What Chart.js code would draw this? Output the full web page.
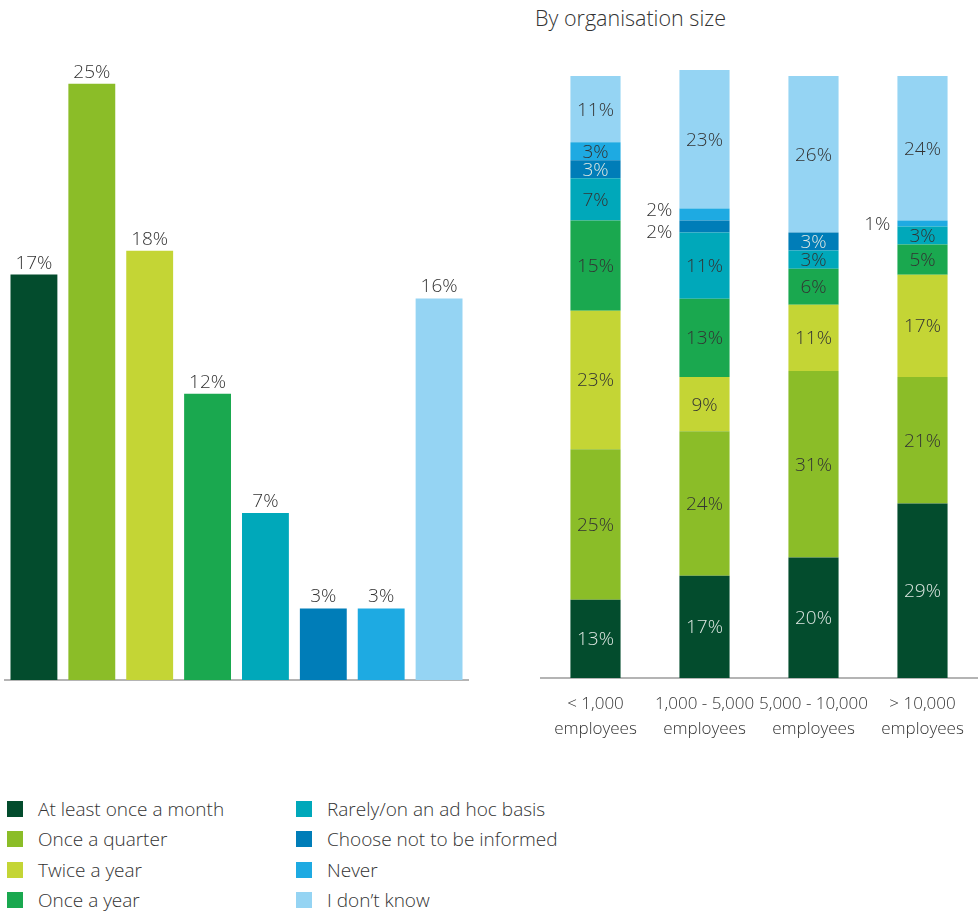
<!DOCTYPE html>
<html>
<head>
<meta charset="utf-8">
<script src="https://cdn.jsdelivr.net/npm/chart.js@4/dist/chart.umd.min.js"></script>
<style>
  body { margin:0; background:#fff; font-family:"Open Sans", sans-serif; }
  #wrap { position:relative; width:978px; height:911px; overflow:hidden; }
  #left-box { position:absolute; left:0; top:0; width:475px; height:690px; }
  #right-box { position:absolute; left:500px; top:0; width:478px; height:760px; }
  #title { position:absolute; left:535px; top:3px; font-size:21.5px; font-weight:300; color:#333; }
  #legend { position:absolute; left:7px; top:794px; }
  .leg-col { position:absolute; top:0; width:300px; }
  .leg-item { height:30.3px; display:flex; align-items:center; font-size:19px; font-weight:300; color:#333; white-space:nowrap; }
  .leg-item span.sw { width:16px; height:16px; margin-right:15px; flex:none; }
</style>
</head>
<body>
<div id="wrap">
  <div id="left-box"><canvas id="left-chart"></canvas></div>
  <div id="title">By organisation size</div>
  <div id="right-box"><canvas id="right-chart"></canvas></div>
  <div id="legend"></div>
</div>
<script>
// answer categories (also legend)
const answers = [
  "At least once a month",
  "Once a quarter",
  "Twice a year",
  "Once a year",
  "Rarely/on an ad hoc basis",
  "Choose not to be informed",
  "Never",
  "I don\u2019t know"
];
const colors = ["#034c2d", "#8bbd28", "#c4d535", "#1aa84f", "#00a8ba", "#007db8", "#1eaae2", "#95d4f3"];
const labelOnDark = [true, false, false, false, false, true, false, false];

// overall share
const overall = [17, 25, 18, 12, 7, 3, 3, 16];

// by organisation size
const sizes = [["< 1,000", "employees"], ["1,000 - 5,000", "employees"], ["5,000 - 10,000", "employees"], ["> 10,000", "employees"]];
const monthly   = [13, 17, 20, 29];
const quarterly = [25, 24, 31, 21];
const twiceYear = [23, 9, 11, 17];
const yearly    = [15, 13, 6, 5];
const rarely    = [7, 11, 3, 3];
const chooseNot = [3, 2, 3, 0];
const never     = [3, 2, 0, 1];
const dontKnow  = [11, 23, 26, 24];
const bySize = [monthly, quarterly, twiceYear, yearly, rarely, chooseNot, never, dontKnow];

const FONT = { family: "Open Sans", size: 19, weight: 300 };
const TEXT = "#333";

// legend
const legend = document.getElementById("legend");
[0, 1].forEach(col => {
  const div = document.createElement("div");
  div.className = "leg-col";
  div.style.left = (col * 289) + "px";
  answers.slice(col * 4, col * 4 + 4).forEach((a, i) => {
    const idx = col * 4 + i;
    div.innerHTML += `<div class="leg-item"><span class="sw" style="background:${colors[idx]}"></span>${a}</div>`;
  });
  legend.appendChild(div);
});

// value labels above bars
const topLabels = {
  id: "topLabels",
  afterDatasetsDraw(chart) {
    const ctx = chart.ctx;
    ctx.save();
    ctx.font = `${FONT.weight} ${FONT.size}px "${FONT.family}"`;
    ctx.fillStyle = TEXT;
    ctx.textAlign = "center";
    ctx.textBaseline = "alphabetic";
    chart.getDatasetMeta(0).data.forEach((bar, i) => {
      ctx.fillText(overall[i] + "%", bar.x, bar.y - 6);
    });
    ctx.restore();
  }
};

// labels inside stacked segments, tiny ones pushed to the left of the bar
const stackLabels = {
  id: "stackLabels",
  afterDatasetsDraw(chart) {
    const ctx = chart.ctx;
    ctx.save();
    ctx.font = `${FONT.weight} ${FONT.size}px "${FONT.family}"`;
    ctx.textBaseline = "middle";
    sizes.forEach((s, col) => {
      const outside = [];
      chart.data.datasets.forEach((ds, d) => {
        const v = ds.data[col];
        if (!v) return;
        const bar = chart.getDatasetMeta(d).data[col];
        const cy = (bar.y + bar.base) / 2;
        if (v <= 2) {
          outside.push({ v, x: bar.x - bar.width / 2 - 7, y: cy });
        } else {
          ctx.textAlign = "center";
          ctx.fillStyle = labelOnDark[d] ? "#dde6e1" : TEXT;
          ctx.fillText(v + "%", bar.x, cy + 1);
        }
      });
      // keep outside labels apart
      if (outside.length > 1) {
        const mean = outside.reduce((a, o) => a + o.y, 0) / outside.length;
        outside.sort((a, b) => a.y - b.y);
        outside.forEach((o, i) => { o.y = mean + (i - (outside.length - 1) / 2) * 22; });
      }
      ctx.textAlign = "right";
      ctx.fillStyle = TEXT;
      outside.forEach(o => ctx.fillText(o.v + "%", o.x, o.y + 1));
    });
    ctx.restore();
  }
};

new Chart(document.getElementById("left-chart"), {
  type: "bar",
  data: {
    labels: answers,
    datasets: [{
      data: overall,
      backgroundColor: colors,
      borderWidth: 0,
      barPercentage: 0.81,
      categoryPercentage: 1
    }]
  },
  options: {
    responsive: true,
    maintainAspectRatio: false,
    animation: false,
    events: [],
    layout: { padding: { left: 5, right: 7, top: 60, bottom: 2 } },
    plugins: { legend: { display: false }, tooltip: { enabled: false } },
    scales: {
      x: {
        grid: { display: false },
        ticks: { display: false },
        border: { display: true, color: "#b4b4b4", width: 2 }
      },
      y: { display: false, min: 0, max: 26 }
    }
  },
  plugins: [topLabels]
});

new Chart(document.getElementById("right-chart"), {
  type: "bar",
  data: {
    labels: sizes,
    datasets: bySize.map((vals, i) => ({
      label: answers[i],
      data: vals,
      backgroundColor: colors[i],
      borderWidth: 0,
      barPercentage: 0.46,
      categoryPercentage: 1,
      clip: false
    }))
  },
  options: {
    responsive: true,
    maintainAspectRatio: false,
    animation: false,
    events: [],
    layout: { padding: { left: 41, right: 1, top: 76, bottom: 12 } },
    plugins: { legend: { display: false }, tooltip: { enabled: false } },
    scales: {
      x: {
        stacked: true,
        grid: { display: false },
        ticks: { color: TEXT, font: { family: "Open Sans", size: 17, weight: 300, lineHeight: 1.47 }, padding: 6, maxRotation: 0, autoSkip: false },
        border: { display: true, color: "#b4b4b4", width: 2 }
      },
      y: { display: false, stacked: true, min: 0, max: 100 }
    }
  },
  plugins: [stackLabels]
});
</script>
</body>
</html>
